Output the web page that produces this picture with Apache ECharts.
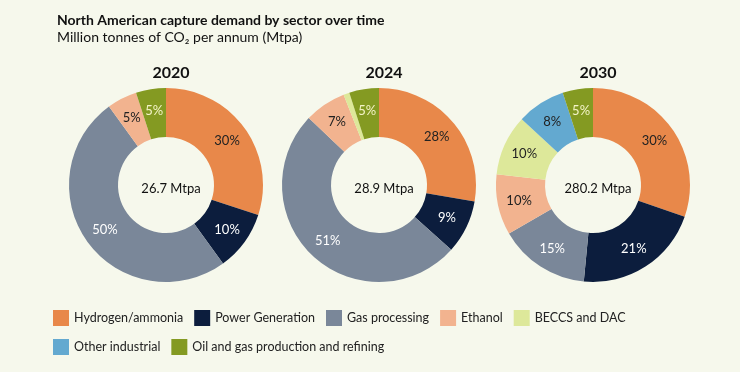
<!DOCTYPE html>
<html>
<head>
<meta charset="utf-8">
<script src="https://cdn.jsdelivr.net/npm/echarts@6/dist/echarts.min.js"></script>
<style>
html,body{margin:0;padding:0;background:#f6f8ec;}
#chart{width:740px;height:372px;}
</style>
</head>
<body>
<div id="chart"></div>
<script>
const sectors = ["Hydrogen/ammonia","Power Generation","Gas processing","Ethanol","BECCS and DAC","Other industrial","Oil and gas production and refining"];
const years = ["2020","2024","2030"];
const totals = ["26.7 Mtpa","28.9 Mtpa","280.2 Mtpa"];
const share2020 = [30,10,50,5,0,0,5];
const share2024 = [28,9,51,7,1,0,5];
const share2030 = [30,21,15,10,10,8,5];
const colors = ["#e8884a","#0c1d3d","#7a8799","#f2b38f","#dde89a","#63a9d0","#849a22"];
const labelColors = ["#222222","#ffffff","#ffffff","#222222","#222222","#222222","#f4f4c8"];

const FONT = "Lato";
const centersX = [166,379,593];
const shares = [share2020,share2024,share2030];

const series = shares.map((vals,i)=>({
  type:'pie',
  center:[centersX[i],185],
  radius:[48,97],
  startAngle:90,
  clockwise:true,
  avoidLabelOverlap:false,
  silent:true,
  label:{show:true,position:'inside',fontFamily:FONT,fontSize:13,
    formatter:p=>p.value>=2?p.value+'%':''},
  labelLine:{show:false},
  itemStyle:{borderWidth:0},
  data:vals.map((v,k)=>({name:sectors[k],value:v,itemStyle:{color:colors[k]},label:{color:labelColors[k]}}))
}));

const titles = [
  {text:'North American capture demand by sector over time',left:52,top:8,
   textStyle:{fontFamily:FONT,fontSize:14,fontWeight:'bold',color:'#111'}},
  {text:'Million tonnes of CO₂ per annum (Mtpa)',left:52,top:25,
   textStyle:{fontFamily:FONT,fontSize:14,fontWeight:'normal',color:'#111'}}
];
years.forEach((y,i)=>{
  titles.push({text:y,left:centersX[i],top:60,textAlign:'center',
    textStyle:{fontFamily:FONT,fontSize:16,fontWeight:'bold',color:'#111'}});
  titles.push({text:totals[i],left:centersX[i],top:177,textAlign:'center',
    textStyle:{fontFamily:FONT,fontSize:13,fontWeight:'normal',color:'#111'}});
});

const legendBase = {orient:'horizontal',icon:'rect',itemWidth:16,itemHeight:16,itemGap:11,
  textStyle:{fontFamily:FONT,fontSize:12.5,color:'#222'},selectedMode:false};

const option = {
  backgroundColor:'#f6f8ec',
  animation:false,
  color:colors,
  title:titles,
  legend:[
    Object.assign({},legendBase,{left:48,top:305,data:sectors.slice(0,5)}),
    Object.assign({},legendBase,{left:48,top:334,data:sectors.slice(5)})
  ],
  series:series
};
const chart = echarts.init(document.getElementById('chart'),null,{renderer:'canvas'});
chart.setOption(option);
</script>
</body>
</html>
